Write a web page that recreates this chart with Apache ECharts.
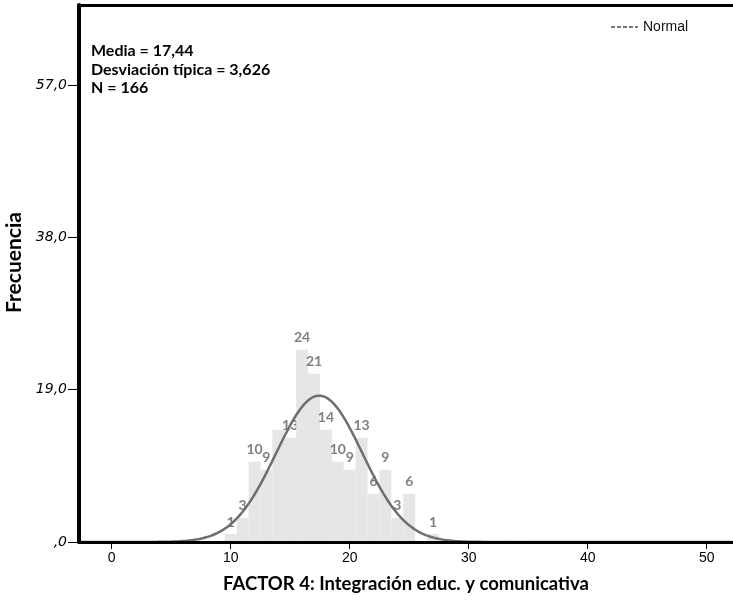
<!DOCTYPE html>
<html>
<head>
<meta charset="utf-8">
<style>
  html, body { margin: 0; padding: 0; background: #ffffff; }
  #chart { width: 733px; height: 602px; }
</style>
<script src="https://cdn.jsdelivr.net/npm/echarts@6/dist/echarts.min.js"></script>
</head>
<body>
<div id="chart"></div>
<script>
// Histogram of FACTOR 4 scores (bins of width 1, centred on whole values)
const binValues   = [10, 11, 12, 13, 14, 15, 16, 17, 18, 19, 20, 21, 22, 23, 24, 25, 27];
const frequencies = [1, 3, 10, 9, 14, 13, 24, 21, 14, 10, 9, 13, 6, 9, 3, 6, 1];
const binWidth = 1;
// bins whose count label is left off
const hiddenLabelBins = [14];

// summary statistics shown in the corner and used for the normal curve
const MEAN = 17.44;
const SD = 3.626;
const N = 166;
const statLines = ['Media = 17,44', 'Desviación típica = 3,626', 'N = 166'];

const xTicks = [0, 10, 20, 30, 40, 50];
const yTicks = [0, 19, 38, 57];
const X_MIN = -2.75, X_MAX = 52.21;
const Y_MAX = 67;

// fitted normal curve scaled to counts per bin
const curve = [];
for (let x = X_MIN; x <= X_MAX + 1e-9; x += 0.1) {
  const z = (x - MEAN) / SD;
  curve.push([x, N * binWidth * Math.exp(-0.5 * z * z) / (SD * Math.sqrt(2 * Math.PI))]);
}

const histData = binValues.map((v, i) => [v, frequencies[i]]);

const fmtY = v => (v === 0 ? ',0' : v.toFixed(1).replace('.', ','));

const chart = echarts.init(document.getElementById('chart'), null, { renderer: 'canvas' });
chart.setOption({
  animation: false,
  backgroundColor: '#ffffff',
  grid: { left: 79, right: 0, top: 5, bottom: 60, outerBoundsMode: 'none', containLabel: false },
  title: {
    text: statLines.join('\n'),
    left: 91,
    top: 42,
    padding: 0,
    textStyle: {
      fontFamily: 'Lato', fontWeight: 'bold', fontSize: 16,
      lineHeight: 18.5, color: '#000000'
    }
  },
  legend: {
    left: 610,
    top: 20,
    padding: 0,
    itemWidth: 27,
    itemHeight: 14,
    data: ['Normal'],
    itemStyle: { opacity: 0 },
    lineStyle: { type: [4, 2], width: 2, color: '#777777', opacity: 1 },
    textStyle: { fontFamily: 'Liberation Sans', fontSize: 14, color: '#111111' }
  },
  xAxis: [{
    type: 'value',
    min: X_MIN,
    max: X_MAX,
    z: 10,
    name: 'FACTOR 4: Integración educ. y comunicativa',
    nameLocation: 'middle',
    nameGap: 33,
    nameTextStyle: { fontFamily: 'Lato', fontWeight: 'bold', fontSize: 18.5, color: '#000000' },
    splitLine: { show: false },
    axisLine: { show: true, onZero: false, lineStyle: { color: '#000000', width: 3 } },
    axisTick: { show: true, customValues: xTicks, length: 7, lineStyle: { color: '#000000', width: 1 } },
    axisLabel: {
      customValues: xTicks, margin: 9,
      fontFamily: 'Liberation Sans Narrow, Liberation Sans', fontSize: 14, color: '#000000'
    }
  }, {
    type: 'value',
    position: 'top',
    min: X_MIN,
    max: X_MAX,
    z: 10,
    splitLine: { show: false },
    axisLine: { show: true, onZero: false, lineStyle: { color: '#000000', width: 3 } },
    axisTick: { show: false },
    axisLabel: { show: false }
  }],
  yAxis: {
    type: 'value',
    min: 0,
    max: Y_MAX,
    z: 10,
    name: 'Frecuencia',
    nameLocation: 'middle',
    nameGap: 49,
    nameTextStyle: {
      fontFamily: 'Lato', fontWeight: 'bold', fontSize: 21, color: '#000000',
      padding: [0, 0, 0, 22]
    },
    splitLine: { show: false },
    axisLine: { show: true, onZero: false, lineStyle: { color: '#000000', width: 4 } },
    axisTick: { show: true, customValues: yTicks, length: 11, lineStyle: { color: '#000000', width: 1 } },
    axisLabel: {
      customValues: yTicks, margin: 12, formatter: fmtY,
      fontFamily: 'DejaVu Sans', fontStyle: 'italic', fontSize: 14, color: '#000000'
    }
  },
  series: [{
    name: 'Frecuencia',
    type: 'custom',
    z: 2,
    data: histData,
    renderItem: (params, api) => {
      const v = api.value(0), c = api.value(1);
      const topLeft = api.coord([v - binWidth / 2, c]);
      const botRight = api.coord([v + binWidth / 2, 0]);
      const children = [{
        type: 'rect',
        shape: { x: topLeft[0], y: topLeft[1], width: botRight[0] - topLeft[0], height: botRight[1] - topLeft[1] },
        style: { fill: '#e6e6e6' }
      }];
      if (hiddenLabelBins.indexOf(v) < 0) {
        children.push({
          type: 'text',
          style: {
            text: String(c),
            x: (topLeft[0] + botRight[0]) / 2,
            y: topLeft[1] - 5,
            align: 'center',
            verticalAlign: 'bottom',
            font: 'bold 14px Lato',
            fill: '#7f7f7f'
          }
        });
      }
      return { type: 'group', children };
    }
  }, {
    name: 'Normal',
    type: 'line',
    z: 3,
    symbol: 'none',
    smooth: false,
    data: curve,
    itemStyle: { color: '#6e6e6e' },
    lineStyle: { color: '#6e6e6e', width: 2.5 }
  }]
});
</script>
</body>
</html>
